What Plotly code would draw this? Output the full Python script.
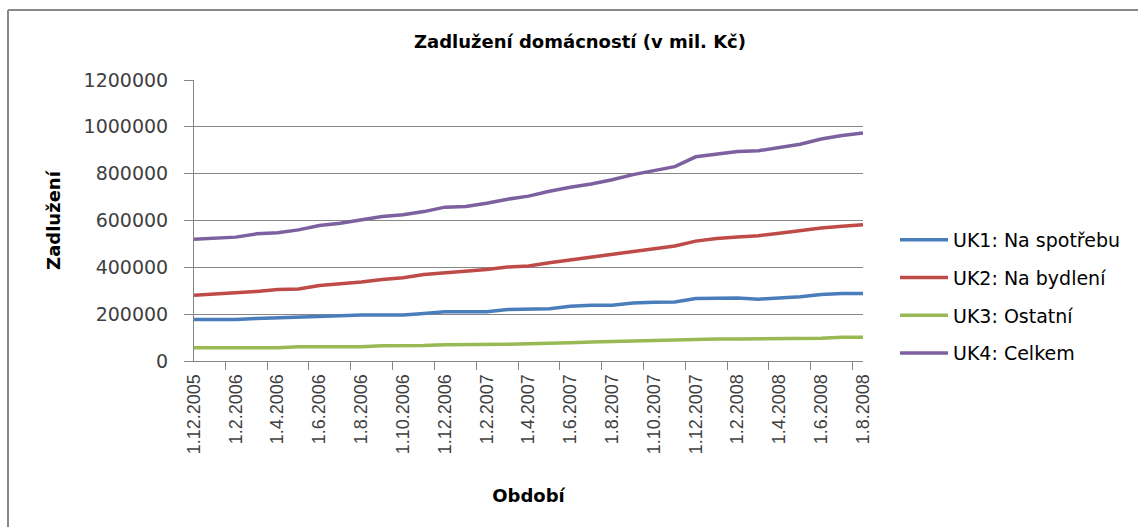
import plotly.graph_objects as go

months = [
    "1.12.2005", "1.1.2006", "1.2.2006", "1.3.2006", "1.4.2006", "1.5.2006", "1.6.2006",
    "1.7.2006", "1.8.2006", "1.9.2006", "1.10.2006", "1.11.2006", "1.12.2006",
    "1.1.2007", "1.2.2007", "1.3.2007", "1.4.2007", "1.5.2007", "1.6.2007",
    "1.7.2007", "1.8.2007", "1.9.2007", "1.10.2007", "1.11.2007", "1.12.2007",
    "1.1.2008", "1.2.2008", "1.3.2008", "1.4.2008", "1.5.2008", "1.6.2008",
    "1.7.2008", "1.8.2008",
]

uk1_spotreba = [177, 177, 177, 182, 184, 188, 191, 193, 196, 196, 196, 203, 210, 210, 210, 220, 222,
                223, 234, 238, 238, 248, 251, 252, 267, 267, 269, 264, 269, 274, 284, 288, 288]
uk2_bydleni = [281, 286, 291, 297, 305, 308, 322, 328, 337, 348, 356, 369, 376, 381, 391, 401, 406,
               420, 432, 443, 455, 466, 479, 491, 512, 523, 530, 535, 546, 557, 568, 575, 582]
uk3_ostatni = [57, 57, 57, 57, 57, 61, 61, 61, 61, 65, 65, 66, 69, 69, 69, 72, 74,
               75, 78, 81, 83, 86, 87, 89, 94, 94, 94, 94, 94, 97, 97, 101, 101]
uk4_celkem = [520, 524, 529, 543, 548, 560, 579, 588, 604, 617, 625, 638, 657, 660, 674, 691, 704,
              725, 742, 756, 774, 796, 813, 830, 872, 884, 895, 898, 912, 926, 948, 963, 974]

series_names = ["UK1: Na spotřebu", "UK2: Na bydlení", "UK3: Ostatní", "UK4: Celkem"]
series_values = [uk1_spotreba, uk2_bydleni, uk3_ostatni, uk4_celkem]
colors = ["#4A7EBB", "#BE4B48", "#98B954", "#7D60A0"]

fig = go.Figure()
for name, vals, col in zip(series_names, series_values, colors):
    fig.add_trace(go.Scatter(
        x=months, y=[v * 1000 for v in vals], mode="lines", name=name,
        legendgroup=name,
        line=dict(color=col, width=3.5),
    ))

grid = "#878787"
L, R, T, B = 194, 275, 80, 166
pw, ph = 1138 - L - R, 527 - T - B
fig.update_layout(
    width=1138, height=527,
    paper_bgcolor="white", plot_bgcolor="white",
    margin=dict(l=L, r=R, t=T, b=B),
    title=dict(text="<b>Zadlužení domácností (v mil. Kč)</b>",
               x=580 / 1138, xanchor="center", xref="container",
               y=1 - 42 / 527, yanchor="middle", yref="container",
               font=dict(family="DejaVu Sans", size=18, color="#000000")),
    font=dict(family="DejaVu Sans", color="#404040"),
    legend=dict(
        xref="container", yref="container",
        x=895 / 1138, xanchor="left",
        y=1 - 221 / 527, yanchor="top",
        font=dict(family="DejaVu Sans", size=19, color="#000000"),
        tracegroupgap=10,
        itemwidth=48,
        bgcolor="rgba(0,0,0,0)",
    ),
    showlegend=True,
)

fig.update_xaxes(
    type="category",
    showgrid=False,
    showline=True, linecolor=grid, linewidth=1,
    ticks="outside", ticklen=8, tickcolor=grid,
    tickson="boundaries", dtick=2, tick0=0,
    tickangle=-90,
    ticklabelstandoff=5,
    tickfont=dict(family="Liberation Sans", size=18, color="#404040"),
    title=dict(text="<b>Období</b>", font=dict(family="DejaVu Sans", size=18, color="#000000"), standoff=36),
    zeroline=False,
)
fig.update_yaxes(
    range=[0, 1200000], dtick=200000, tickformat="d",
    showgrid=True, gridcolor=grid, gridwidth=1,
    showline=True, linecolor=grid, linewidth=1,
    ticks="outside", ticklen=9, tickcolor=grid,
    ticklabelstandoff=12,
    tickfont=dict(family="DejaVu Sans", size=19, color="#404040"),
    title=dict(text="<b>Zadlužení</b>", font=dict(family="DejaVu Sans", size=18, color="#000000"), standoff=18),
    zeroline=False,
)

fig.add_shape(type="line", xref="paper", yref="paper",
              x0=(8 - L) / pw, x1=(1140 - L) / pw,
              y0=(527 - B - 10) / ph, y1=(527 - B - 10) / ph,
              line=dict(color="#888888", width=2))
fig.add_shape(type="line", xref="paper", yref="paper",
              x0=(8 - L) / pw, x1=(8 - L) / pw,
              y0=(527 - B - 10) / ph, y1=(527 - B - 530) / ph,
              line=dict(color="#888888", width=2))

fig.write_html("out.html", config={"displayModeBar": False},
               post_script="document.body.style.margin='0';document.body.style.overflow='hidden';")
